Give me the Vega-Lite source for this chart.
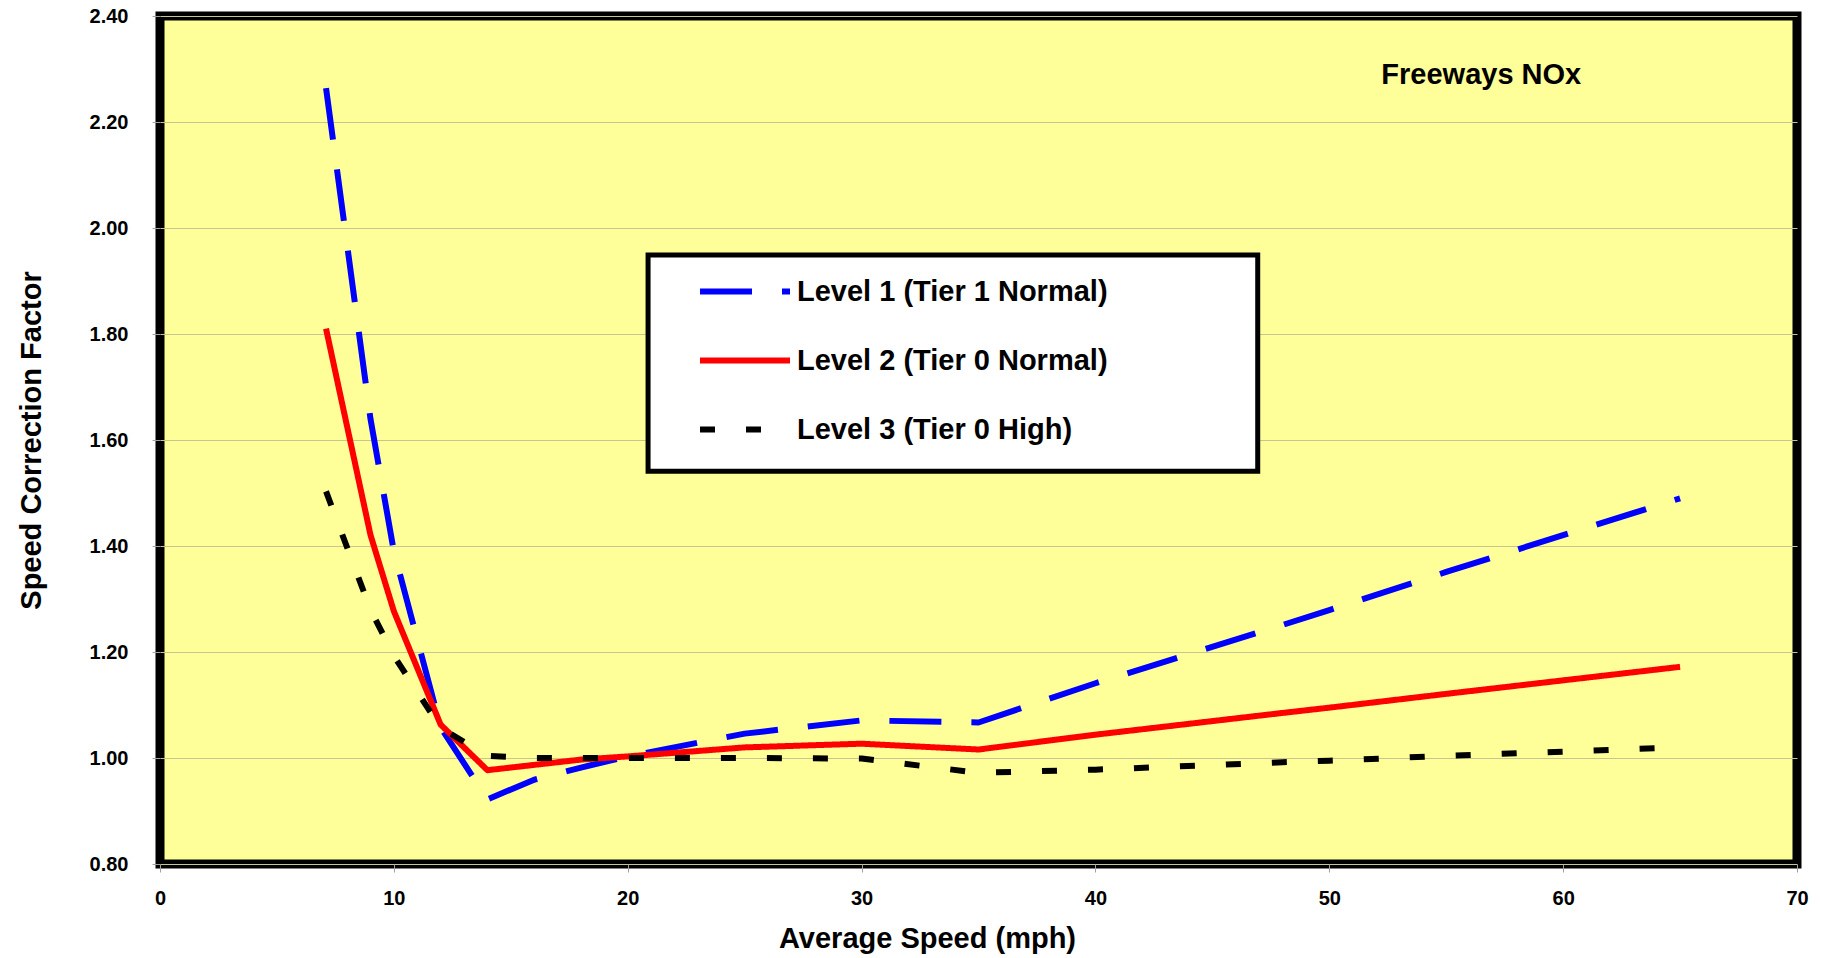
{
  "$schema": "https://vega.github.io/schema/vega-lite/v6.json",
  "width": 1637,
  "height": 848,
  "autosize": {"type": "none"},
  "padding": {"left": 160, "top": 16, "right": 24, "bottom": 94},
  "background": "white",
  "config": {
    "font": "Liberation Sans",
    "view": {"fill": "#FFFF99", "stroke": "#000000", "strokeWidth": 9}
  },
  "layer": [
    {
      "data": {
        "values": [
          {"speed": 7.1, "scf": 2.264, "series": "Level 1 (Tier 1 Normal)"},
          {"speed": 9, "scf": 1.64, "series": "Level 1 (Tier 1 Normal)"},
          {"speed": 10, "scf": 1.39, "series": "Level 1 (Tier 1 Normal)"},
          {"speed": 12, "scf": 1.058, "series": "Level 1 (Tier 1 Normal)"},
          {"speed": 14, "scf": 0.922, "series": "Level 1 (Tier 1 Normal)"},
          {"speed": 16, "scf": 0.959, "series": "Level 1 (Tier 1 Normal)"},
          {"speed": 18, "scf": 0.982, "series": "Level 1 (Tier 1 Normal)"},
          {"speed": 20, "scf": 1.003, "series": "Level 1 (Tier 1 Normal)"},
          {"speed": 25, "scf": 1.046, "series": "Level 1 (Tier 1 Normal)"},
          {"speed": 30, "scf": 1.071, "series": "Level 1 (Tier 1 Normal)"},
          {"speed": 35, "scf": 1.067, "series": "Level 1 (Tier 1 Normal)"},
          {"speed": 40, "scf": 1.141, "series": "Level 1 (Tier 1 Normal)"},
          {"speed": 48, "scf": 1.251, "series": "Level 1 (Tier 1 Normal)"},
          {"speed": 50, "scf": 1.279, "series": "Level 1 (Tier 1 Normal)"},
          {"speed": 55, "scf": 1.351, "series": "Level 1 (Tier 1 Normal)"},
          {"speed": 65, "scf": 1.49, "series": "Level 1 (Tier 1 Normal)"},
          {"speed": 7.1, "scf": 1.81, "series": "Level 2 (Tier 0 Normal)"},
          {"speed": 9, "scf": 1.421, "series": "Level 2 (Tier 0 Normal)"},
          {"speed": 10, "scf": 1.277, "series": "Level 2 (Tier 0 Normal)"},
          {"speed": 12, "scf": 1.063, "series": "Level 2 (Tier 0 Normal)"},
          {"speed": 14, "scf": 0.977, "series": "Level 2 (Tier 0 Normal)"},
          {"speed": 16, "scf": 0.987, "series": "Level 2 (Tier 0 Normal)"},
          {"speed": 18, "scf": 0.997, "series": "Level 2 (Tier 0 Normal)"},
          {"speed": 20, "scf": 1.003, "series": "Level 2 (Tier 0 Normal)"},
          {"speed": 25, "scf": 1.02, "series": "Level 2 (Tier 0 Normal)"},
          {"speed": 30, "scf": 1.027, "series": "Level 2 (Tier 0 Normal)"},
          {"speed": 35, "scf": 1.016, "series": "Level 2 (Tier 0 Normal)"},
          {"speed": 40, "scf": 1.044, "series": "Level 2 (Tier 0 Normal)"},
          {"speed": 48, "scf": 1.085, "series": "Level 2 (Tier 0 Normal)"},
          {"speed": 50, "scf": 1.095, "series": "Level 2 (Tier 0 Normal)"},
          {"speed": 55, "scf": 1.121, "series": "Level 2 (Tier 0 Normal)"},
          {"speed": 65, "scf": 1.172, "series": "Level 2 (Tier 0 Normal)"},
          {"speed": 7.1, "scf": 1.503, "series": "Level 3 (Tier 0 High)"},
          {"speed": 9, "scf": 1.28, "series": "Level 3 (Tier 0 High)"},
          {"speed": 10, "scf": 1.193, "series": "Level 3 (Tier 0 High)"},
          {"speed": 12, "scf": 1.057, "series": "Level 3 (Tier 0 High)"},
          {"speed": 14, "scf": 1.004, "series": "Level 3 (Tier 0 High)"},
          {"speed": 16, "scf": 1.0, "series": "Level 3 (Tier 0 High)"},
          {"speed": 18, "scf": 1.0, "series": "Level 3 (Tier 0 High)"},
          {"speed": 20, "scf": 1.0, "series": "Level 3 (Tier 0 High)"},
          {"speed": 25, "scf": 1.0, "series": "Level 3 (Tier 0 High)"},
          {"speed": 30, "scf": 0.999, "series": "Level 3 (Tier 0 High)"},
          {"speed": 35, "scf": 0.972, "series": "Level 3 (Tier 0 High)"},
          {"speed": 40, "scf": 0.978, "series": "Level 3 (Tier 0 High)"},
          {"speed": 48, "scf": 0.992, "series": "Level 3 (Tier 0 High)"},
          {"speed": 50, "scf": 0.995, "series": "Level 3 (Tier 0 High)"},
          {"speed": 55, "scf": 1.004, "series": "Level 3 (Tier 0 High)"},
          {"speed": 65, "scf": 1.02, "series": "Level 3 (Tier 0 High)"}
        ]
      },
      "mark": {"type": "line", "strokeWidth": 6, "strokeCap": "butt", "strokeJoin": "round"},
      "encoding": {
        "x": {
          "field": "speed",
          "type": "quantitative",
          "scale": {"domain": [0, 70], "nice": false, "zero": false},
          "axis": {
            "title": "Average Speed (mph)",
            "values": [0, 10, 20, 30, 40, 50, 60, 70],
            "grid": false,
            "domain": false,
            "tickSize": 8,
            "tickColor": "#a0a0a0",
            "labelFontSize": 20,
            "labelFontWeight": "bold",
            "labelColor": "#000000",
            "labelFont": "Liberation Sans",
            "labelFlush": false,
            "labelPadding": 16,
            "titleFont": "Liberation Sans",
            "titleFontSize": 29,
            "titleFontWeight": "bold",
            "titleColor": "#000000",
            "titlePadding": 16,
            "titleX": 767
          }
        },
        "y": {
          "field": "scf",
          "type": "quantitative",
          "scale": {"domain": [0.8, 2.4], "nice": false, "zero": false},
          "axis": {
            "title": "Speed Correction Factor",
            "values": [0.8, 1.0, 1.2, 1.4, 1.6, 1.8, 2.0, 2.2, 2.4],
            "format": ".2f",
            "grid": true,
            "gridColor": "#c8c690",
            "gridWidth": 1,
            "domain": false,
            "tickSize": 8,
            "tickColor": "#a0a0a0",
            "labelFontSize": 20,
            "labelFontWeight": "bold",
            "labelColor": "#000000",
            "labelFont": "Liberation Sans",
            "labelFlush": false,
            "labelPadding": 24,
            "titleFont": "Liberation Sans",
            "titleFontSize": 29,
            "titleFontWeight": "bold",
            "titleColor": "#000000",
            "titlePadding": 43
          }
        },
        "color": {
          "field": "series",
          "type": "nominal",
          "scale": {
            "domain": ["Level 1 (Tier 1 Normal)", "Level 2 (Tier 0 Normal)", "Level 3 (Tier 0 High)"],
            "range": ["#0000FF", "#FF0000", "#000000"]
          },
          "legend": {
            "title": null,
            "orient": "none",
            "legendX": 537,
            "legendY": 250,
            "direction": "vertical",
            "symbolType": "M-1,0H3",
            "symbolSize": 2025,
            "symbolStrokeWidth": 6,
            "symbolOffset": 0,
            "symbolFillColor": "transparent",
            "labelOffset": 49,
            "labelFontSize": 29,
            "labelFontWeight": "bold",
            "labelFont": "Liberation Sans",
            "labelColor": "#000000",
            "labelLimit": 600,
            "rowPadding": 28,
            "padding": 0
          }
        },
        "strokeDash": {
          "field": "series",
          "type": "nominal",
          "scale": {
            "domain": ["Level 1 (Tier 1 Normal)", "Level 2 (Tier 0 Normal)", "Level 3 (Tier 0 High)"],
            "range": [[52, 30], [1, 0], [15, 31]]
          },
          "legend": {
            "title": null,
            "orient": "none",
            "legendX": 537,
            "legendY": 250,
            "direction": "vertical",
            "symbolType": "M-1,0H3",
            "symbolSize": 2025,
            "symbolStrokeWidth": 6,
            "symbolOffset": 0,
            "symbolFillColor": "transparent",
            "labelOffset": 49,
            "labelFontSize": 29,
            "labelFontWeight": "bold",
            "labelFont": "Liberation Sans",
            "labelColor": "#000000",
            "labelLimit": 600,
            "rowPadding": 28,
            "padding": 0
          }
        }
      }
    },
    {
      "data": {"values": [{"box": "legend frame"}]},
      "mark": {"type": "rect", "fill": "#FFFFFF", "stroke": "#000000", "strokeWidth": 5},
      "encoding": {
        "x": {"datum": 20.87, "type": "quantitative"},
        "x2": {"datum": 46.94},
        "y": {"datum": 1.949, "type": "quantitative"},
        "y2": {"datum": 1.541}
      }
    },
    {
      "data": {"values": [{"label": "Freeways NOx"}]},
      "mark": {"type": "text", "font": "Liberation Sans", "fontSize": 29, "fontWeight": "bold", "color": "#000000", "align": "center", "baseline": "alphabetic"},
      "encoding": {
        "x": {"datum": 56.5, "type": "quantitative"},
        "y": {"datum": 2.272, "type": "quantitative"},
        "text": {"field": "label", "type": "nominal"}
      }
    }
  ]
}
